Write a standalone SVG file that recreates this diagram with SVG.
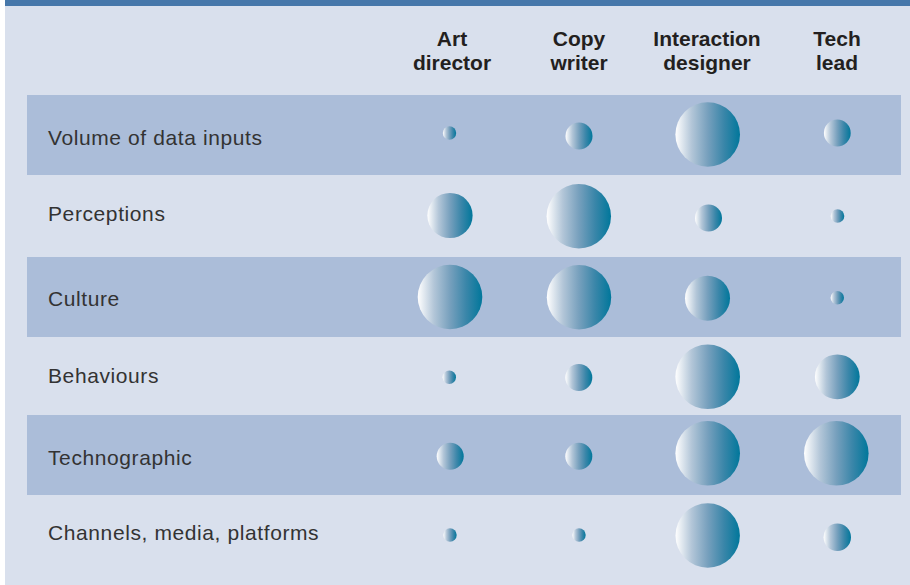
<svg xmlns="http://www.w3.org/2000/svg" width="910" height="585" viewBox="0 0 910 585">
<defs>
<linearGradient id="bub" x1="0" y1="0" x2="1" y2="0">
<stop offset="0" stop-color="#ffffff"/>
<stop offset="0.25" stop-color="#b3c6d8"/>
<stop offset="0.5" stop-color="#77a0bd"/>
<stop offset="0.75" stop-color="#3a86a9"/>
<stop offset="1" stop-color="#00779b"/>
</linearGradient>
</defs>
<style>
.hd{font-family:"Liberation Sans",Arial,sans-serif;font-weight:bold;font-size:21px;fill:#231f20;text-anchor:middle}
.lb{font-family:"Liberation Sans",Arial,sans-serif;font-size:21px;letter-spacing:0.6px;fill:#333333}
.b{fill:url(#bub)}
.st{fill:#abbdd9}
</style>
<rect x="0" y="0" width="910" height="585" fill="#ffffff"/>
<rect x="5" y="0" width="905" height="585" fill="#d9e0ed"/>
<rect x="5" y="0" width="905" height="6" fill="#4677aa"/>
<g id="stripes">
<rect class="st" x="27" y="95" width="874" height="80"/>
<rect class="st" x="27" y="257" width="874" height="80"/>
<rect class="st" x="27" y="415" width="874" height="80"/>
</g>
<g id="headers">
<text class="hd" x="452" y="46">Art</text>
<text class="hd" x="452" y="70">director</text>
<text class="hd" x="579" y="46">Copy</text>
<text class="hd" x="579" y="70">writer</text>
<text class="hd" x="707" y="46">Interaction</text>
<text class="hd" x="707" y="70">designer</text>
<text class="hd" x="837" y="46">Tech</text>
<text class="hd" x="837" y="70">lead</text>
</g>
<g id="row1">
<text class="lb" x="48" y="144.5">Volume of data inputs</text>
<circle class="b" cx="449.5" cy="133" r="6.7"/>
<circle class="b" cx="579" cy="136" r="13.5"/>
<circle class="b" cx="707.7" cy="134.5" r="32.3"/>
<circle class="b" cx="837.3" cy="133" r="13.4"/>
</g>
<g id="row2">
<text class="lb" x="48" y="221">Perceptions</text>
<circle class="b" cx="450" cy="215.5" r="22.6"/>
<circle class="b" cx="578.8" cy="216.3" r="32.2"/>
<circle class="b" cx="708.5" cy="218" r="13.5"/>
<circle class="b" cx="837.5" cy="216" r="6.8"/>
</g>
<g id="row3">
<text class="lb" x="48" y="306">Culture</text>
<circle class="b" cx="450" cy="297" r="32.3"/>
<circle class="b" cx="579" cy="297.2" r="32.2"/>
<circle class="b" cx="707.5" cy="298.2" r="22.5"/>
<circle class="b" cx="837.3" cy="297.8" r="6.7"/>
</g>
<g id="row4">
<text class="lb" x="48" y="383">Behaviours</text>
<circle class="b" cx="449.3" cy="377.3" r="6.7"/>
<circle class="b" cx="578.8" cy="377.5" r="13.5"/>
<circle class="b" cx="707.7" cy="376.8" r="32.3"/>
<circle class="b" cx="837.3" cy="376.8" r="22.4"/>
</g>
<g id="row5">
<text class="lb" x="48" y="464.5">Technographic</text>
<circle class="b" cx="450.2" cy="456.2" r="13.5"/>
<circle class="b" cx="578.8" cy="456.2" r="13.5"/>
<circle class="b" cx="707.7" cy="453.3" r="32.3"/>
<circle class="b" cx="836.3" cy="453.3" r="32.3"/>
</g>
<g id="row6">
<text class="lb" x="48" y="540">Channels, media, platforms</text>
<circle class="b" cx="450" cy="535" r="6.7"/>
<circle class="b" cx="579" cy="535" r="6.7"/>
<circle class="b" cx="707.7" cy="535.5" r="32.2"/>
<circle class="b" cx="837.3" cy="537.3" r="13.7"/>
</g>
</svg>
